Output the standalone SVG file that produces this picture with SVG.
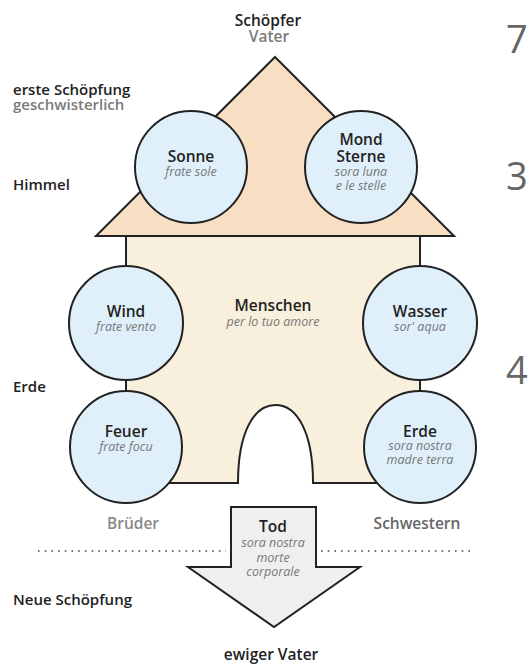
<svg xmlns="http://www.w3.org/2000/svg" width="532" height="667" viewBox="0 0 532 667">
<style>
.t{font-family:"Open Sans","Noto Sans","Liberation Sans",sans-serif;}
.h{font-weight:600;font-size:15.5px;fill:#222;text-anchor:middle;}
.i{font-style:italic;font-size:12.5px;fill:#777;text-anchor:middle;}
.l{font-weight:600;font-size:15px;fill:#222;}
.g{fill:#7a7a7a;}
.n{font-size:38px;fill:#666;font-weight:400;}
.c{fill:#dff0fb;stroke:#222;stroke-width:2;}
.s{stroke:#222;stroke-width:2;}
</style>
<rect width="532" height="667" fill="#fff"/>
<g id="labels" class="t">
<text class="h" x="268" y="26">Schöpfer</text>
<text class="h g" x="269" y="42">Vater</text>
<text class="l" x="13" y="95">erste Schöpfung</text>
<text class="l g" x="13" y="110">geschwisterlich</text>
<text class="l" x="13" y="190">Himmel</text>
<text class="l" x="13" y="392">Erde</text>
<text class="l" x="13" y="605">Neue Schöpfung</text>
<text class="h" x="271" y="660">ewiger Vater</text>
<text class="h" x="133" y="529" style="fill:#888">Brüder</text>
<text class="h" x="417" y="529" style="fill:#666">Schwestern</text>
<text class="n" x="506" y="53">7</text>
<text class="n" x="506" y="190">3</text>
<text class="n" x="506" y="384">4</text>
</g>
<g id="body">
<path class="s" d="M126,236 H420 V483 H313 C313,432 297,405 275.5,405 C254,405 238,432 238,483 H126 Z" fill="#f8efdd"/>
<text class="t h" x="273" y="311">Menschen</text>
<text class="t i" x="273" y="326">per lo tuo amore</text>
</g>
<g id="roof">
<polygon class="s" points="275,57 454,236 96,236" fill="#f8dfc3"/>
</g>
<g id="connectors">
<line class="s" x1="126" y1="380" x2="126" y2="391"/>
<line class="s" x1="420" y1="380" x2="420" y2="391"/>
<line x1="38" y1="551" x2="226" y2="551" stroke="#444" stroke-width="1.6" stroke-dasharray="1.6 5.1"/>
<line x1="321" y1="551" x2="471" y2="551" stroke="#444" stroke-width="1.6" stroke-dasharray="1.6 5.1"/>
</g>
<g id="sonne">
<circle class="c" cx="191" cy="167" r="56"/>
<text class="t h" x="191" y="162">Sonne</text>
<text class="t i" x="191" y="176">frate sole</text>
</g>
<g id="mond">
<circle class="c" cx="361" cy="167" r="56"/>
<text class="t h" x="361" y="145">Mond</text>
<text class="t h" x="361" y="162">Sterne</text>
<text class="t i" x="361" y="176">sora luna</text>
<text class="t i" x="361" y="190">e le stelle</text>
</g>
<g id="wind">
<circle class="c" cx="126" cy="323" r="57"/>
<text class="t h" x="126" y="317">Wind</text>
<text class="t i" x="126" y="331">frate vento</text>
</g>
<g id="wasser">
<circle class="c" cx="420" cy="323" r="57"/>
<text class="t h" x="420" y="317">Wasser</text>
<text class="t i" x="420" y="331">sor' aqua</text>
</g>
<g id="feuer">
<circle class="c" cx="126" cy="447" r="56"/>
<text class="t h" x="126" y="437">Feuer</text>
<text class="t i" x="126" y="451">frate focu</text>
</g>
<g id="erde">
<circle class="c" cx="420" cy="447" r="56"/>
<text class="t h" x="420" y="437">Erde</text>
<text class="t i" x="420" y="450">sora nostra</text>
<text class="t i" x="420" y="464">madre terra</text>
</g>
<g id="tod">
<polygon class="s" points="231,507 316,507 316,567 360,567 274,627 188,567 231,567" fill="#efefef"/>
<text class="t h" x="273" y="532">Tod</text>
<text class="t i" x="273" y="547">sora nostra</text>
<text class="t i" x="273" y="562">morte</text>
<text class="t i" x="273" y="576">corporale</text>
</g>
</svg>
